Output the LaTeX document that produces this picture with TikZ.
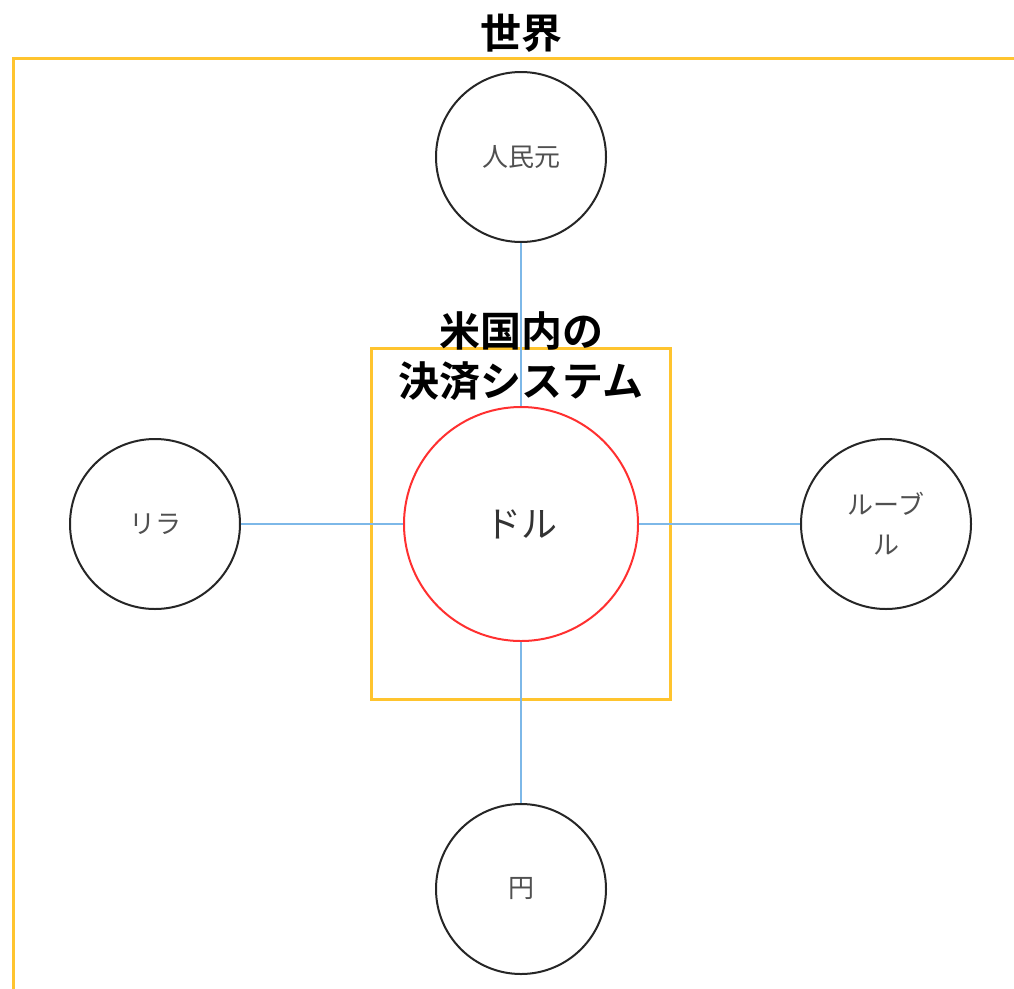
\documentclass[tikz,border=0pt]{standalone}
\usepackage{fontspec}
\setmainfont{Noto Sans CJK JP}
\newfontfamily\headfont{Noto Sans CJK JP Bold}
\definecolor{frameyellow}{HTML}{FFC42E}
\definecolor{linkblue}{HTML}{7DB8E8}
\definecolor{dollarred}{HTML}{FF3030}
\definecolor{labelgray}{HTML}{505050}
\tikzset{
  currency/.style={circle, draw=black!85, line width=2pt, minimum size=170pt, inner sep=0pt, text=labelgray, font=\fontsize{26}{40}\selectfont, align=center},
  dollar/.style={circle, draw=dollarred, line width=2pt, minimum size=234pt, inner sep=0pt, text=black!80, font=\fontsize{36}{40}\selectfont},
  link/.style={draw=linkblue, line width=1.8pt},
  frame/.style={draw=frameyellow, line width=3pt},
  heading/.style={font=\headfont\fontsize{41}{50}\selectfont, align=center, text=black}
}
\begin{document}
\begin{tikzpicture}[x=1pt,y=-1pt]
\useasboundingbox (0,0) rectangle (1014,988);
\clip (0,0) rectangle (1014,988);
\fill[white] (0,0) rectangle (1014,988);
% outer frame (extends past the right and bottom edges)
\draw[frame] (1030,58) -- (13,58) -- (13,1010);
\node[heading] (world) at (521,33) {世界};
% inner frame
\draw[frame] (371,348) rectangle (670,699);
% nodes
\node[dollar] (usd) at (521,524) {ドル};
\node[currency] (cny) at (521,157) {人民元};
\node[currency] (try) at (155,524) {リラ};
\node[currency] (rub) at (886,524) {ルーブ\\ル};
\node[currency] (jpy) at (521,889) {円};
% links
\draw[link] (cny) -- (usd);
\draw[link] (try) -- (usd);
\draw[link] (usd) -- (rub);
\draw[link] (usd) -- (jpy);
\node[heading] (usys) at (521,356) {米国内の\\決済システム};
\end{tikzpicture}
\end{document}
